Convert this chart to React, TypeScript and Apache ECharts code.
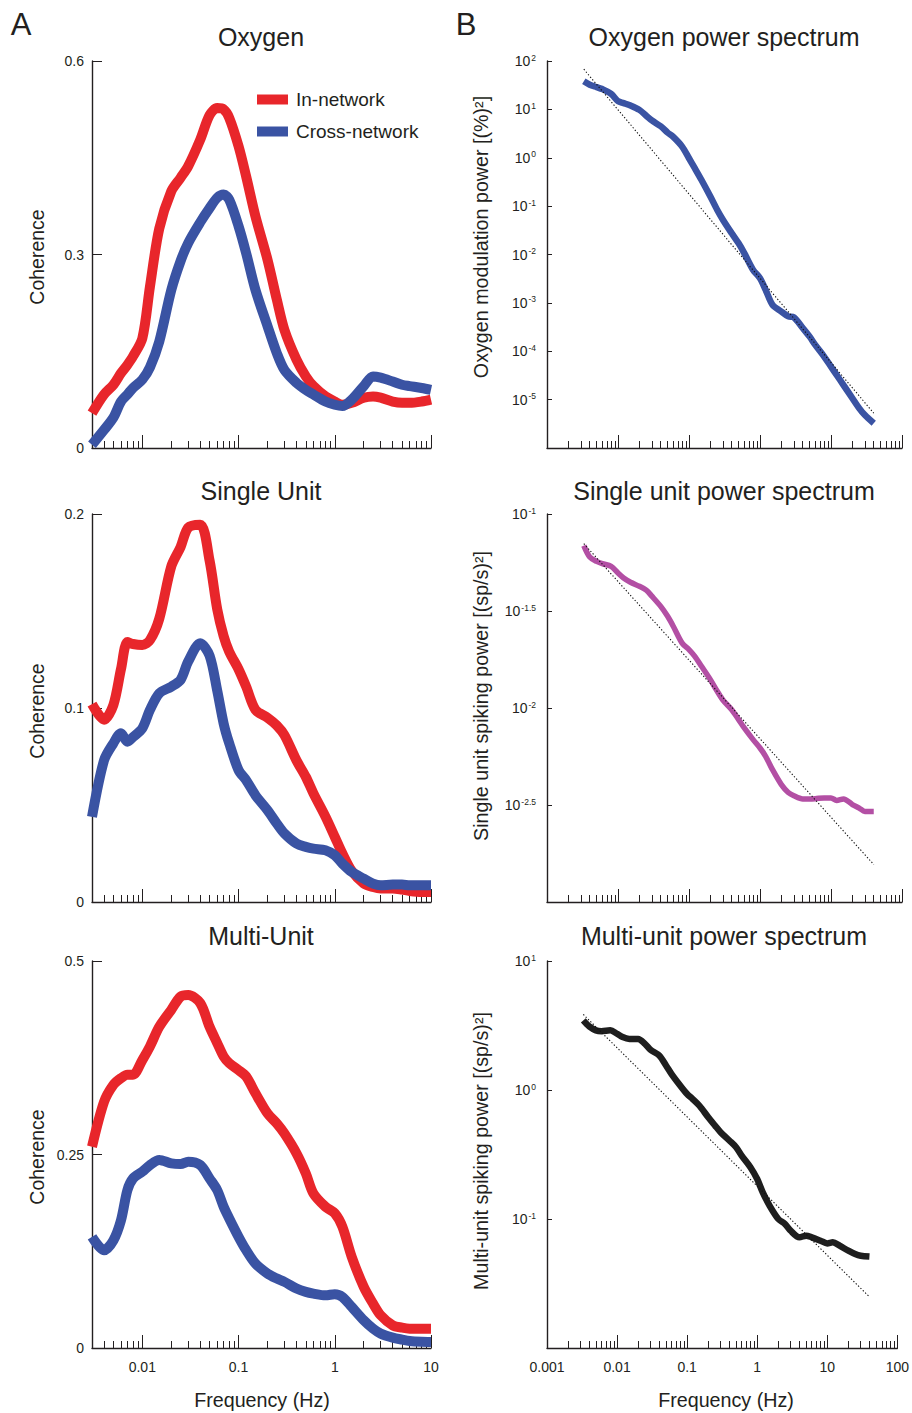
import React, { useEffect, useRef } from "react";
import * as echarts from "echarts";

// ---------- data ----------
const LEFT_FREQ = [0.003, 0.004, 0.005, 0.006, 0.007, 0.008, 0.01, 0.012, 0.015, 0.02, 0.025, 0.03, 0.04, 0.05, 0.06, 0.07, 0.08, 0.1, 0.12, 0.15, 0.2, 0.25, 0.3, 0.4, 0.5, 0.6, 0.8, 1, 1.2, 1.5, 2, 2.5, 3, 4, 5, 6, 8, 10];

const OXY_IN = [0.054, 0.083, 0.098, 0.116, 0.129, 0.142, 0.170, 0.250, 0.340, 0.398, 0.419, 0.437, 0.478, 0.516, 0.527, 0.525, 0.512, 0.468, 0.421, 0.359, 0.292, 0.230, 0.183, 0.137, 0.111, 0.096, 0.080, 0.072, 0.067, 0.070, 0.078, 0.080, 0.078, 0.072, 0.070, 0.070, 0.072, 0.075];
const OXY_CROSS = [0.005, 0.028, 0.047, 0.072, 0.083, 0.093, 0.106, 0.125, 0.165, 0.245, 0.290, 0.318, 0.350, 0.372, 0.388, 0.393, 0.385, 0.344, 0.302, 0.245, 0.189, 0.147, 0.121, 0.101, 0.090, 0.083, 0.072, 0.067, 0.065, 0.075, 0.096, 0.111, 0.109, 0.103, 0.098, 0.096, 0.093, 0.090];

const SU_IN = [0.102, 0.094, 0.1015, 0.120, 0.134, 0.133, 0.1325, 0.135, 0.146, 0.173, 0.183, 0.193, 0.1945, 0.176, 0.151, 0.137, 0.129, 0.120, 0.111, 0.099, 0.095, 0.091, 0.086, 0.073, 0.0645, 0.056, 0.044, 0.0336, 0.025, 0.016, 0.0095, 0.0077, 0.007, 0.007, 0.0064, 0.0057, 0.0052, 0.0052];
const SU_CROSS = [0.0439, 0.073, 0.0818, 0.087, 0.0826, 0.085, 0.0895, 0.099, 0.1076, 0.111, 0.1145, 0.124, 0.1334, 0.127, 0.109, 0.092, 0.0818, 0.068, 0.0628, 0.055, 0.0473, 0.0404, 0.0353, 0.0301, 0.0284, 0.0275, 0.0267, 0.0241, 0.0198, 0.0155, 0.012, 0.0095, 0.0086, 0.009, 0.009, 0.0086, 0.0086, 0.0086];

const MU_IN = [0.260, 0.318, 0.340, 0.3486, 0.353, 0.353, 0.372, 0.3896, 0.415, 0.437, 0.454, 0.456, 0.4456, 0.415, 0.394, 0.3766, 0.368, 0.359, 0.3507, 0.329, 0.303, 0.290, 0.277, 0.2515, 0.2256, 0.1997, 0.1825, 0.174, 0.1566, 0.1178, 0.079, 0.0574, 0.0423, 0.0293, 0.0263, 0.025, 0.025, 0.025];
const MU_CROSS = [0.1437, 0.1264, 0.139, 0.165, 0.204, 0.219, 0.2278, 0.2364, 0.2429, 0.2386, 0.2377, 0.2407, 0.2364, 0.219, 0.204, 0.1825, 0.1674, 0.1437, 0.1264, 0.109, 0.0962, 0.0897, 0.0854, 0.0768, 0.0725, 0.0703, 0.068, 0.0695, 0.066, 0.053, 0.0358, 0.025, 0.0186, 0.0134, 0.0108, 0.009, 0.008, 0.0078];

const RIGHT_FREQ = [0.0033, 0.004, 0.005, 0.006, 0.008, 0.01, 0.012, 0.015, 0.02, 0.025, 0.03, 0.04, 0.05, 0.06, 0.08, 0.1, 0.12, 0.15, 0.2, 0.25, 0.3, 0.4, 0.5, 0.6, 0.8, 1, 1.2, 1.5, 2, 2.5, 3, 4, 5, 6, 8, 10, 12, 15, 20, 25, 30, 40];

const OXY_POWER = [38.0, 32.4, 28.8, 26.3, 20.9, 14.8, 13.5, 12.0, 9.77, 7.41, 5.89, 4.47, 3.31, 2.69, 1.70, 0.977, 0.617, 0.347, 0.158, 0.0832, 0.0525, 0.0275, 0.0170, 0.0107, 0.00479, 0.00324, 0.00186, 0.000912, 0.000661, 0.000525, 0.000501, 0.000302, 0.000200, 0.000135, 0.0000776, 0.0000479, 0.0000324, 0.0000200, 0.0000107, 0.00000661, 0.00000479, 0.00000324];
const SU_POWER = [0.0687, 0.0600, 0.0570, 0.0555, 0.0537, 0.0497, 0.0468, 0.0445, 0.0424, 0.0405, 0.0377, 0.0334, 0.0297, 0.0264, 0.0216, 0.0200, 0.0185, 0.0164, 0.0140, 0.0122, 0.0110, 0.00980, 0.00871, 0.00789, 0.00687, 0.00622, 0.00564, 0.00481, 0.00403, 0.00367, 0.00353, 0.00340, 0.00340, 0.00341, 0.00344, 0.00344, 0.00334, 0.00340, 0.00318, 0.00305, 0.00293, 0.00293];
const MU_POWER = [3.46, 3.11, 2.90, 2.86, 2.90, 2.73, 2.57, 2.49, 2.49, 2.28, 2.05, 1.85, 1.55, 1.33, 1.08, 0.931, 0.851, 0.755, 0.615, 0.530, 0.471, 0.406, 0.360, 0.310, 0.252, 0.204, 0.161, 0.127, 0.100, 0.0914, 0.0811, 0.0721, 0.0743, 0.0721, 0.0679, 0.0647, 0.0659, 0.0621, 0.0568, 0.0535, 0.0519, 0.0511];

// power-law fits (dotted lines): endpoints
const FIT_FREQ = [0.0033, 40];
const OXY_FIT = [67.6, 0.00000525];
const SU_FIT = [0.0703, 0.00156];
const MU_FIT = [3.85, 0.0249];

// ---------- ticks & labels ----------
const LEFT_X_MAJOR = [0.01, 0.1, 1, 10];
const LEFT_X_LABELS = ["0.01", "0.1", "1", "10"];
const LEFT_X_MINOR = [0.004, 0.005, 0.006, 0.007, 0.008, 0.009, 0.02, 0.03, 0.04, 0.05, 0.06, 0.07, 0.08, 0.09, 0.2, 0.3, 0.4, 0.5, 0.6, 0.7, 0.8, 0.9, 2, 3, 4, 5, 6, 7, 8, 9];
const RIGHT_X_MAJOR = [0.001, 0.01, 0.1, 1, 10, 100];
const RIGHT_X_LABELS = ["0.001", "0.01", "0.1", "1", "10", "100"];
const RIGHT_X_MINOR = [0.002, 0.003, 0.004, 0.005, 0.006, 0.007, 0.008, 0.009, 0.02, 0.03, 0.04, 0.05, 0.06, 0.07, 0.08, 0.09, 0.2, 0.3, 0.4, 0.5, 0.6, 0.7, 0.8, 0.9, 2, 3, 4, 5, 6, 7, 8, 9, 20, 30, 40, 50, 60, 70, 80, 90];

const OXY_Y_EXP = [2, 1, 0, -1, -2, -3, -4, -5];
const SU_Y_EXP = [-1, -1.5, -2, -2.5];
const MU_Y_EXP = [1, 0, -1];

const LEFT_TITLES = ["Oxygen", "Single Unit", "Multi-Unit"];
const RIGHT_TITLES = ["Oxygen power spectrum", "Single unit power spectrum", "Multi-unit power spectrum"];
const RIGHT_YNAMES = ["Oxygen modulation power [(%)²]", "Single unit spiking power [(sp/s)²]", "Multi-unit spiking power [(sp/s)²]"];

// ---------- styling ----------
const FONT = '"Liberation Sans", Arial, Helvetica, sans-serif';
const INK = "#231f20";
const RED = "#e8262b";
const BLUE = "#3a53a3";
const MAGENTA = "#b34fa4";
const BLACK = "#1e1e1e";

const GRIDS = [
  { left: 92, top: 61, width: 339, height: 387 },
  { left: 547, top: 61, width: 355, height: 387 },
  { left: 92, top: 514, width: 339, height: 388 },
  { left: 547, top: 514, width: 355, height: 388 },
  { left: 92, top: 961, width: 339, height: 387 },
  { left: 547, top: 961, width: 355, height: 387 },
];

function buildOption() {
  const xAxis: any[] = [];
  const yAxis: any[] = [];
  const series: any[] = [];

  const addX = (gi: number, lo: number, hi: number, major: number[], minor: number[], labels: string[], showLabels: boolean) => {
    const dataIdx = xAxis.length;
    xAxis.push({ type: "log", logBase: 10, gridIndex: gi, min: lo, max: hi, show: false, position: "bottom" });
    const lmin = Math.log10(lo);
    const lmax = Math.log10(hi);
    const majorL = major.map((m) => Math.log10(m));
    xAxis.push({
      type: "value", gridIndex: gi, position: "bottom", min: lmin, max: lmax, silent: true,
      axisLine: { show: true, onZero: false, lineStyle: { color: INK, width: 1.4 } },
      axisTick: { show: true, inside: true, length: 7, customValues: minor.map((m) => Math.log10(m)), lineStyle: { color: INK, width: 1 } },
      axisLabel: {
        show: showLabels, customValues: majorL, margin: 12, color: INK, fontSize: 14, fontFamily: FONT,
        formatter: (v: number) => {
          const i = majorL.findIndex((m) => Math.abs(m - v) < 1e-6);
          return i >= 0 ? labels[i] : "";
        },
      },
      splitLine: { show: false },
    });
    xAxis.push({
      type: "value", gridIndex: gi, position: "bottom", min: lmin, max: lmax, silent: true,
      axisLine: { show: false, onZero: false },
      axisTick: { show: true, inside: true, length: 13, customValues: majorL, lineStyle: { color: INK, width: 1 } },
      axisLabel: { show: false },
      splitLine: { show: false },
    });
    return dataIdx;
  };

  const addLeftY = (gi: number, max: number, interval: number) => {
    const idx = yAxis.length;
    yAxis.push({
      type: "value", gridIndex: gi, position: "left", min: 0, max, interval, silent: true,
      axisLine: { show: true, onZero: false, lineStyle: { color: INK, width: 1.4 } },
      axisTick: { show: true, inside: true, length: 10, lineStyle: { color: INK, width: 1 } },
      axisLabel: { margin: 8, color: INK, fontSize: 14, fontFamily: FONT },
      splitLine: { show: false },
    });
    return idx;
  };

  const addRightY = (gi: number, lo: number, hi: number, exps: number[]) => {
    const idx = yAxis.length;
    yAxis.push({ type: "log", logBase: 10, gridIndex: gi, min: lo, max: hi, show: false, position: "left" });
    yAxis.push({
      type: "value", gridIndex: gi, position: "left", min: Math.log10(lo), max: Math.log10(hi), silent: true,
      axisLine: { show: true, onZero: false, lineStyle: { color: INK, width: 1.4 } },
      axisTick: { show: true, inside: true, length: 5, customValues: exps, lineStyle: { color: INK, width: 1 } },
      axisLabel: {
        customValues: exps, margin: 11, color: INK, fontFamily: FONT,
        formatter: (v: number) => `{b|10}{s|${String(v)}}`,
        rich: {
          b: { fontSize: 14, fontFamily: FONT, color: INK, lineHeight: 16 },
          s: { fontSize: 8.5, fontFamily: FONT, color: INK, verticalAlign: "top", lineHeight: 10, padding: [0, 0, 0, 1] },
        },
      },
      splitLine: { show: false },
    });
    return idx;
  };

  const pairs = (xs: number[], ys: number[]) => xs.map((x, i) => [x, ys[i]]);

  const line = (name: string, xi: number, yi: number, xs: number[], ys: number[], color: string, width: number, smooth: number) => ({
    type: "line", name, xAxisIndex: xi, yAxisIndex: yi, data: pairs(xs, ys),
    showSymbol: false, symbol: "none", smooth, silent: true,
    lineStyle: { color, width, cap: "butt", join: "round" },
    itemStyle: { color },
  });

  const dotted = (name: string, xi: number, yi: number, ys: number[]) => ({
    type: "line", name, xAxisIndex: xi, yAxisIndex: yi, data: pairs(FIT_FREQ, ys),
    showSymbol: false, symbol: "none", silent: true,
    lineStyle: { color: "#111", width: 1.1, type: [1.3, 2] },
    itemStyle: { color: "#111" },
  });

  const leftSets = [
    { inn: OXY_IN, cross: OXY_CROSS, max: 0.6, interval: 0.3 },
    { inn: SU_IN, cross: SU_CROSS, max: 0.2, interval: 0.1 },
    { inn: MU_IN, cross: MU_CROSS, max: 0.5, interval: 0.25 },
  ];
  const rightSets = [
    { power: OXY_POWER, fit: OXY_FIT, lo: 1e-6, hi: 100, exps: OXY_Y_EXP, color: BLUE, width: 6.5, name: "Oxygen power" },
    { power: SU_POWER, fit: SU_FIT, lo: 1e-3, hi: 1e-1, exps: SU_Y_EXP, color: MAGENTA, width: 5.5, name: "Single unit power" },
    { power: MU_POWER, fit: MU_FIT, lo: 1e-2, hi: 10, exps: MU_Y_EXP, color: BLACK, width: 6.5, name: "Multi-unit power" },
  ];

  for (let r = 0; r < 3; r++) {
    const bottom = r === 2;
    const L = leftSets[r];
    const lx = addX(2 * r, 0.003, 10, LEFT_X_MAJOR, LEFT_X_MINOR, LEFT_X_LABELS, bottom);
    const ly = addLeftY(2 * r, L.max, L.interval);
    series.push(line("In-network", lx, ly, LEFT_FREQ, L.inn, RED, 10, 0.3));
    series.push(line("Cross-network", lx, ly, LEFT_FREQ, L.cross, BLUE, 10, 0.3));

    const R = rightSets[r];
    const rx = addX(2 * r + 1, 0.001, 100, RIGHT_X_MAJOR, RIGHT_X_MINOR, RIGHT_X_LABELS, bottom);
    const ry = addRightY(2 * r + 1, R.lo, R.hi, R.exps);
    series.push(line(R.name, rx, ry, RIGHT_FREQ, R.power, R.color, R.width, 0.3));
    series.push(dotted(R.name + " fit", rx, ry, R.fit));
  }

  const txt = (text: string, x: number, y: number, size: number, rot = 0) => ({
    type: "text", x, y, rotation: rot, silent: true,
    style: {
      text, fill: INK, font: `${size}px ${FONT}`, fontSize: size, fontFamily: FONT,
      textAlign: "center", align: "center", textVerticalAlign: "middle", verticalAlign: "middle",
    },
  });

  const rowY = [37, 491, 936];
  const leftNameY = [257, 711, 1157];
  const rightNameY = [237, 696, 1151];
  const graphics: any[] = [txt("A", 21, 24, 31), txt("B", 466, 24, 31)];
  for (let r = 0; r < 3; r++) {
    graphics.push(txt(LEFT_TITLES[r], 261, rowY[r], 25));
    graphics.push(txt(RIGHT_TITLES[r], 724, rowY[r], 25));
    graphics.push(txt("Coherence", 37, leftNameY[r], 19.5, Math.PI / 2));
    graphics.push(txt(RIGHT_YNAMES[r], 481, rightNameY[r], 19.7, Math.PI / 2));
  }
  graphics.push(txt("Frequency (Hz)", 262, 1400, 19.7));
  graphics.push(txt("Frequency (Hz)", 726, 1400, 19.7));

  return {
    animation: false,
    backgroundColor: "#ffffff",
    textStyle: { fontFamily: FONT },
    grid: GRIDS.map((g) => ({ ...g, containLabel: false })),
    xAxis,
    yAxis,
    legend: {
      data: ["In-network", "Cross-network"],
      orient: "vertical", left: 257, top: 90, padding: 0,
      itemWidth: 31, itemHeight: 10, itemGap: 13, icon: "rect",
      selectedMode: false,
      itemStyle: { borderWidth: 0 },
      textStyle: { fontSize: 19, color: INK, fontFamily: FONT, padding: [0, 0, 0, 3] },
    },
    graphic: graphics,
    series,
  };
}

export default function App() {
  const ref = useRef<HTMLDivElement>(null);
  useEffect(() => {
    if (!ref.current) return;
    const chart = echarts.init(ref.current, null, { renderer: "svg", width: 912, height: 1413 });
    chart.setOption(buildOption() as any);
    return () => chart.dispose();
  }, []);
  return <div ref={ref} style={{ position: "absolute", left: 0, top: 0, width: 912, height: 1413, background: "#fff" }} />;
}
